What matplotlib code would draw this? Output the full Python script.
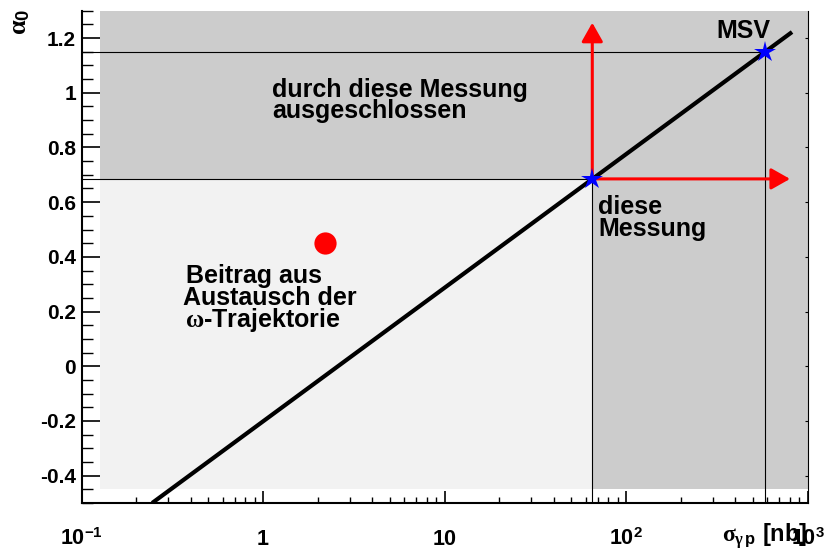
import matplotlib
matplotlib.use('Agg')
import matplotlib.pyplot as plt
from matplotlib.patches import Rectangle, FancyArrowPatch, ArrowStyle
from matplotlib.ticker import FixedLocator, MultipleLocator, LogLocator, NullFormatter

plt.rcParams.update({
    'font.family': 'Liberation Sans',
    'font.weight': 'bold',
    'mathtext.fontset': 'custom',
    'mathtext.rm': 'Liberation Sans:bold',
    'mathtext.bf': 'Liberation Sans:bold',
    'mathtext.sf': 'Liberation Sans:bold',
    'mathtext.it': 'Liberation Serif',
})

# Axis ticks and labels
x_tick_values = [0.1, 1, 10, 100, 1000]
x_tick_labels = [r'$10^{-1}$', r'$1$', r'$10$', r'$10^{2}$', r'$10^{3}$']
y_tick_values = [-0.4, -0.2, 0.0, 0.2, 0.4, 0.6, 0.8, 1.0, 1.2]
y_tick_labels = ['-0.4', '-0.2', '0', '0.2', '0.4', '0.6', '0.8', '1', '1.2']

# Relation alpha_0 vs. sigma_gamma_p (straight in log sigma)
line_sigma = [0.245, 822.0]
line_alpha = [-0.5, 1.222]

# Limits: this measurement and MSV
measured_sigma = 65.2
measured_alpha = 0.685
msv_sigma = 583.0
msv_alpha = 1.15

# omega-trajectory exchange contribution
omega_sigma = 2.2
omega_alpha = 0.45

# Shaded region extent and arrow tips
box_sigma = [0.1265, 1000.0]
box_alpha = [-0.45, 1.3]
arrow_up_alpha = 1.256
arrow_right_sigma = 801.0

fig = plt.figure(figsize=(8.33, 5.59), dpi=100)
W, H = 833.0, 559.0
ax = fig.add_axes([81.5 / W, 1 - 503 / H, (807.5 - 81.5) / W, (503 - 10.7) / H])
ax.set_xscale('log')
ax.set_xlim(0.1, 1000)
ax.set_ylim(-0.5, 1.3)

light = '#f2f2f2'
dark = '#cccccc'
ax.add_patch(Rectangle((box_sigma[0], box_alpha[0]), box_sigma[1] - box_sigma[0],
                       box_alpha[1] - box_alpha[0], fc=light, ec='none', zorder=0.5))
ax.add_patch(Rectangle((box_sigma[0], measured_alpha), box_sigma[1] - box_sigma[0],
                       box_alpha[1] - measured_alpha, fc=dark, ec='none', zorder=0.6))
ax.add_patch(Rectangle((measured_sigma, box_alpha[0]), box_sigma[1] - measured_sigma,
                       measured_alpha - box_alpha[0], fc=dark, ec='none', zorder=0.6))

# Thin guide lines
thin = dict(color='black', lw=0.8, zorder=1.5)
ax.plot([0.1, measured_sigma], [measured_alpha, measured_alpha], **thin)
ax.plot([measured_sigma, measured_sigma], [-0.5, measured_alpha], **thin)
ax.plot([0.1, msv_sigma], [msv_alpha, msv_alpha], **thin)
ax.plot([msv_sigma, msv_sigma], [-0.5, msv_alpha], **thin)

# Main relation
ax.plot(line_sigma, line_alpha, color='black', lw=3, solid_capstyle='butt', zorder=3)

# Red arrows
style = ArrowStyle('-|>', head_length=11.5, head_width=6.5)
for end in [(measured_sigma, arrow_up_alpha), (arrow_right_sigma, measured_alpha)]:
    ax.add_patch(FancyArrowPatch((measured_sigma, measured_alpha), end, arrowstyle=style,
                                 mutation_scale=1, color='red', lw=2.2,
                                 shrinkA=0, shrinkB=0, zorder=4))

# Markers
ax.plot([measured_sigma, msv_sigma], [measured_alpha, msv_alpha], ls='none',
        marker='*', ms=16, color='blue', mew=0, zorder=5)
ax.plot([omega_sigma], [omega_alpha], ls='none', marker='o', ms=16, color='red',
        mew=0, zorder=5)

# Annotations
fs = 18
txt = dict(fontsize=fs, va='baseline', ha='left', zorder=6)
ax.text(1.12, 0.984, 'durch diese Messung', **txt)
ax.text(1.12, 0.908, 'ausgeschlossen', **txt)
ax.text(316, 1.199, 'MSV', **txt)
ax.text(70.3, 0.556, 'diese', **txt)
ax.text(70.3, 0.476, 'Messung', **txt)
ax.text(0.376, 0.303, 'Beitrag aus', **txt)
ax.text(0.364, 0.223, 'Austausch der', **txt)
ax.text(0.372, 0.142, r'$\omega$-Trajektorie', **txt)

# Ticks
ax.xaxis.set_major_locator(FixedLocator(x_tick_values))
ax.set_xticklabels(x_tick_labels)
ax.xaxis.set_minor_locator(LogLocator(base=10, subs=range(2, 10)))
ax.xaxis.set_minor_formatter(NullFormatter())
ax.yaxis.set_major_locator(FixedLocator(y_tick_values))
ax.set_yticklabels(y_tick_labels)
ax.yaxis.set_minor_locator(MultipleLocator(0.05))

ax.tick_params(axis='y', which='major', direction='in', length=13, width=1.2,
               labelsize=15, pad=4, left=True, right=False)
ax.tick_params(axis='y', which='minor', direction='in', length=8, width=1.0,
               left=True, right=False)
ax.tick_params(axis='x', which='major', direction='in', length=9, width=1.2,
               labelsize=15.5, pad=30, bottom=True, top=False)
ax.tick_params(axis='x', which='minor', direction='in', length=4.5, width=1.0,
               bottom=True, top=False)
for lab in ax.get_xticklabels():
    lab.set_verticalalignment('baseline')

for side in ['top', 'right']:
    ax.spines[side].set_visible(False)
for side in ['left', 'bottom']:
    ax.spines[side].set_linewidth(1.5)

# Right-hand axis with short ticks only
twin = ax.twinx()
twin.set_ylim(-0.5, 1.3)
twin.yaxis.set_major_locator(FixedLocator(y_tick_values))
twin.tick_params(axis='y', which='major', direction='in', length=2.5, width=0.8,
                 labelright=False)
for side in ['top', 'left', 'bottom']:
    twin.spines[side].set_visible(False)
twin.spines['right'].set_linewidth(0.8)

# Axis titles
fig.text(20 / W, 1 - 9 / H, r'$\alpha_0$', rotation=90, ha='center', va='top', fontsize=19)
fig.text(722 / W, 1 - 542 / H, r'$\sigma_{\gamma\,\mathrm{p}}$ [nb]', ha='left',
         va='baseline', fontsize=17)

fig.savefig('out.png', dpi=100)
